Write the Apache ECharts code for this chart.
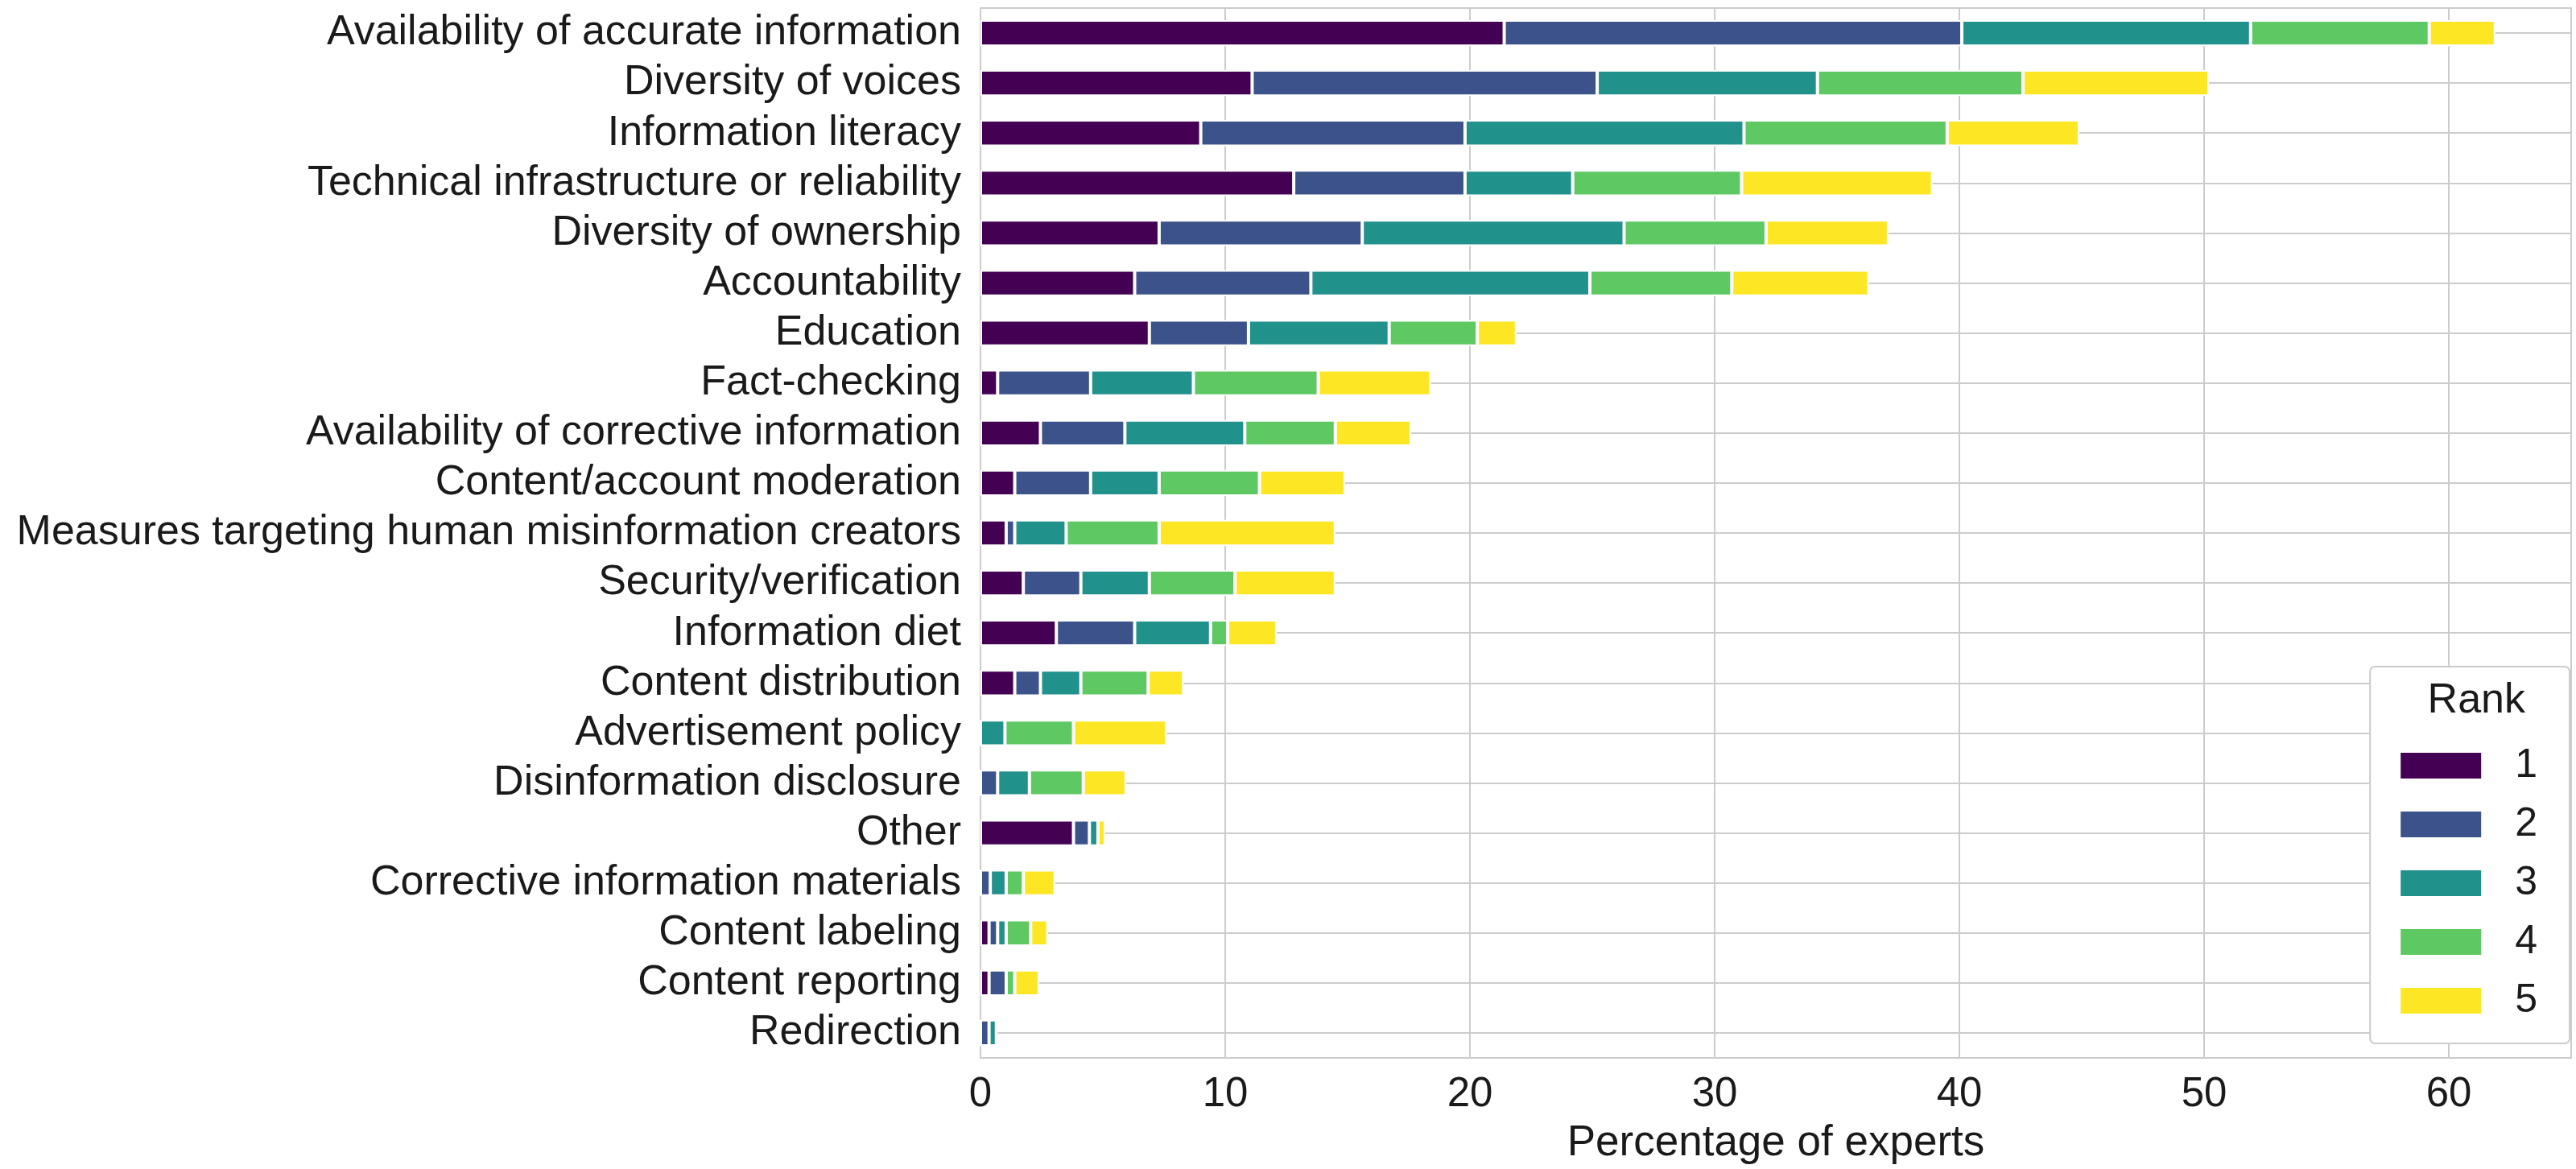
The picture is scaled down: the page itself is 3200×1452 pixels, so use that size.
<!DOCTYPE html>
<html>
<head>
<meta charset="utf-8">
<script src="https://cdn.jsdelivr.net/npm/echarts@6/dist/echarts.min.js"></script>
<style>
  html, body { margin: 0; padding: 0; background: #fff; }
  #mainChart { width: 3200px; height: 1452px; }
</style>
</head>
<body>
<div id="mainChart"></div>
<script>
// factors, top to bottom
var categories = [
    'Availability of accurate information',
    'Diversity of voices',
    'Information literacy',
    'Technical infrastructure or reliability',
    'Diversity of ownership',
    'Accountability',
    'Education',
    'Fact-checking',
    'Availability of corrective information',
    'Content/account moderation',
    'Measures targeting human misinformation creators',
    'Security/verification',
    'Information diet',
    'Content distribution',
    'Advertisement policy',
    'Disinformation disclosure',
    'Other',
    'Corrective information materials',
    'Content labeling',
    'Content reporting',
    'Redirection'
];

// percentage of experts per rank
var rank1 = [21.4, 11.1, 9.0, 12.8, 7.3, 6.3, 6.9, 0.7, 2.45, 1.4, 1.05, 1.75, 3.1, 1.4, 0, 0, 3.8, 0, 0.35, 0.35, 0];
var rank2 = [18.7, 14.1, 10.8, 7.0, 8.3, 7.2, 4.05, 3.8, 3.45, 3.1, 0.35, 2.35, 3.2, 1.05, 0, 0.7, 0.65, 0.4, 0.35, 0.7, 0.35];
var rank3 = [11.8, 9.0, 11.4, 4.4, 10.7, 11.4, 5.75, 4.2, 4.9, 2.8, 2.1, 2.8, 3.1, 1.65, 1.0, 1.3, 0.35, 0.65, 0.35, 0, 0.3];
var rank4 = [7.3, 8.4, 8.3, 6.9, 5.8, 5.8, 3.6, 5.1, 3.7, 4.1, 3.8, 3.5, 0.7, 2.75, 2.8, 2.2, 0, 0.7, 1.0, 0.35, 0];
var rank5 = [2.7, 7.6, 5.4, 7.8, 5.0, 5.6, 1.6, 4.6, 3.1, 3.5, 7.2, 4.1, 2.0, 1.45, 3.8, 1.75, 0.3, 1.3, 0.7, 1.0, 0];

var rankNames = ['1', '2', '3', '4', '5'];
var rankColors = ['#440154', '#3b528b', '#21918c', '#5ec962', '#fde725'];
var xTicks = [0, 10, 20, 30, 40, 50, 60];

var font = '"Liberation Sans", Arial, sans-serif';
var myChart = echarts.init(document.getElementById('mainChart'));

var rankData = [rank1, rank2, rank3, rank4, rank5];
var series = rankNames.map(function (name, i) {
    return {
        name: name,
        type: 'bar',
        stack: 'total',
        barWidth: '52%',
        data: rankData[i],
        itemStyle: {
            color: rankColors[i],
            borderColor: '#ffffff',
            borderWidth: 2
        }
    };
});

myChart.setOption({
    animation: false,
    backgroundColor: '#ffffff',
    textStyle: { fontFamily: font },
    grid: {
        left: 1218,
        right: 6,
        top: 10,
        bottom: 136,
        show: true,
        borderColor: '#cccccc',
        borderWidth: 2,
        containLabel: false
    },
    title: {
        text: 'Rank',
        right: 58,
        top: 840,
        z: 10,
        textStyle: { fontFamily: font, fontSize: 52, fontWeight: 'normal', color: '#1a1a1a' }
    },
    legend: {
        orient: 'vertical',
        right: 8,
        top: 828,
        padding: [98, 40, 28, 36],
        backgroundColor: '#ffffff',
        borderColor: '#cccccc',
        borderWidth: 2,
        borderRadius: 6,
        itemWidth: 102,
        itemHeight: 34,
        itemGap: 23,
        icon: 'rect',
        data: rankNames,
        textStyle: { fontFamily: font, fontSize: 50, lineHeight: 50, color: '#1a1a1a', padding: [0, 0, 0, 36] }
    },
    xAxis: {
        type: 'value',
        min: 0,
        max: 65,
        interval: 10,
        name: 'Percentage of experts',
        nameLocation: 'middle',
        nameGap: 80,
        nameTextStyle: { fontFamily: font, fontSize: 53, color: '#1a1a1a' },
        axisLine: { show: false },
        axisTick: { show: false },
        axisLabel: {
            fontSize: 51,
            color: '#1a1a1a',
            margin: 20,
            showMaxLabel: false,
            formatter: function (v) { return xTicks.indexOf(v) >= 0 ? String(v) : ''; }
        },
        splitLine: { show: true, lineStyle: { color: '#cccccc', width: 2 } }
    },
    yAxis: {
        type: 'category',
        inverse: true,
        data: categories,
        axisLine: { show: false },
        axisTick: { show: false },
        axisLabel: { interval: 0, fontSize: 52, color: '#1a1a1a', margin: 24 },
        splitLine: { show: true, interval: 0, alignWithLabel: true, lineStyle: { color: '#cccccc', width: 2 } }
    },
    series: series
});
</script>
</body>
</html>
